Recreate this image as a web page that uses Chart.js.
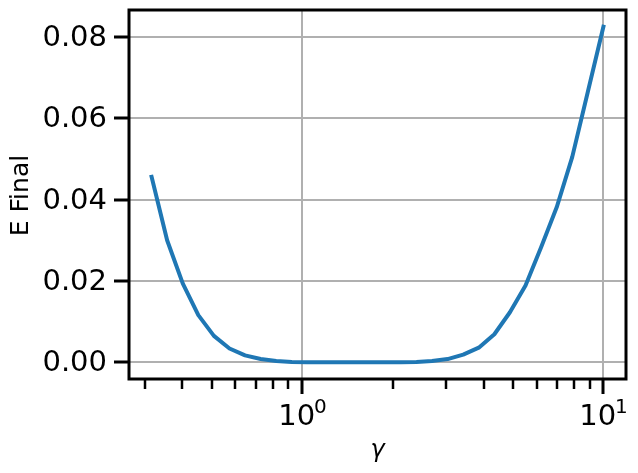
<!DOCTYPE html>
<html>
<head>
<meta charset="utf-8">
<script src="https://cdn.jsdelivr.net/npm/chart.js@4/dist/chart.umd.min.js"></script>
<style>
  html, body { margin: 0; padding: 0; background: #fff; }
</style>
</head>
<body>
<canvas id="chart" width="638" height="473"></canvas>
<script>
// gamma values (log spaced from 10^-0.5 to 10^1)
const gammaValues = [
  0.3162, 0.3561, 0.4012, 0.4520, 0.5092, 0.5736, 0.6461, 0.7279, 0.8200, 0.9237,
  1.0405, 1.1721, 1.3204, 1.4874, 1.6756, 1.8875, 2.1263, 2.3952, 2.6982, 3.0395,
  3.4240, 3.8571, 4.3450, 4.8946, 5.5137, 6.2112, 6.9969, 7.8819, 8.8789, 10.0
];
// final energy
const finalEnergy = [
  0.0456, 0.0300, 0.0194, 0.0116, 0.0065, 0.0034, 0.0017, 0.0008, 0.0003, 0.0001,
  0.00004, 0.00001, 0.0, 0.0, 0.0, 0.00001, 0.00003, 0.0001, 0.0003, 0.0008,
  0.0019, 0.0036, 0.0069, 0.0123, 0.0189, 0.0283, 0.0381, 0.0505, 0.0665, 0.0825
];

const yTickValues = [0, 0.02, 0.04, 0.06, 0.08];
const yTickLabels = ["0.00", "0.02", "0.04", "0.06", "0.08"];
const xMajorTicks = [1, 10];
const xMajorExponents = ["0", "1"];
const xMinorTicks = [0.3, 0.4, 0.5, 0.6, 0.7, 0.8, 0.9, 2, 3, 4, 5, 6, 7, 8, 9];

const FONT = "'DejaVu Sans', sans-serif";

// draws the spines, ticks, tick labels and axis titles like matplotlib does
const axesPlugin = {
  id: "axesPlugin",
  afterDraw(chart) {
    const ctx = chart.ctx;
    const area = chart.chartArea;
    const xs = chart.scales.x;
    const ys = chart.scales.y;

    function line(x1, y1, x2, y2, w) {
      ctx.lineWidth = w;
      ctx.beginPath();
      ctx.moveTo(x1, y1);
      ctx.lineTo(x2, y2);
      ctx.stroke();
    }

    ctx.save();
    ctx.strokeStyle = "#000";
    ctx.fillStyle = "#000";
    ctx.lineCap = "butt";

    // spines
    ctx.lineWidth = 3;
    ctx.strokeRect(area.left, area.top, area.right - area.left, area.bottom - area.top);

    // y ticks + labels
    ctx.font = "29px " + FONT;
    ctx.textAlign = "right";
    ctx.textBaseline = "middle";
    yTickValues.forEach((v, i) => {
      const py = Math.round(ys.getPixelForValue(v));
      line(area.left - 15, py, area.left, py, 3);
      ctx.fillText(yTickLabels[i], area.left - 22, py + 1);
    });

    // x minor ticks
    xMinorTicks.forEach((v) => {
      const px = Math.round(xs.getPixelForValue(v));
      line(px, area.bottom, px, area.bottom + 10, 2.5);
    });

    // x major ticks + labels 10^n
    xMajorTicks.forEach((v, i) => {
      const px = Math.round(xs.getPixelForValue(v));
      line(px, area.bottom, px, area.bottom + 15, 3);
      ctx.textBaseline = "alphabetic";
      ctx.textAlign = "left";
      ctx.font = "29px " + FONT;
      const baseW = ctx.measureText("10").width;
      ctx.font = "20px " + FONT;
      const expW = ctx.measureText(xMajorExponents[i]).width;
      const start = px - (baseW + expW) / 2 + 1;
      ctx.font = "29px " + FONT;
      ctx.fillText("10", start, area.bottom + 46);
      ctx.font = "20px " + FONT;
      ctx.fillText(xMajorExponents[i], start + baseW - 1, area.bottom + 34);
    });

    // x axis title
    ctx.font = "italic 24px " + FONT;
    ctx.textAlign = "center";
    ctx.textBaseline = "alphabetic";
    ctx.fillText("\u03b3", (area.left + area.right) / 2, area.bottom + 78);

    // y axis title
    ctx.translate(28, (area.top + area.bottom) / 2 + 1);
    ctx.rotate(-Math.PI / 2);
    ctx.font = "25px " + FONT;
    ctx.fillText("E Final", 0, 0);
    ctx.restore();
  }
};

const ctx = document.getElementById("chart").getContext("2d");
const chart = new Chart(ctx, {
  type: "line",
  data: {
    datasets: [
      {
        label: "E Final",
        data: gammaValues.map((g, i) => ({ x: g, y: finalEnergy[i] })),
        borderColor: "#1f77b4",
        borderWidth: 4,
        borderCapStyle: "square",
        borderJoinStyle: "round",
        pointRadius: 0,
        tension: 0,
        fill: false,
      },
    ],
  },
  options: {
    responsive: false,
    animation: false,
    layout: { padding: { left: 129, right: 12, top: 10, bottom: 94 } },
    plugins: {
      legend: { display: false },
      tooltip: { enabled: false },
    },
    scales: {
      x: {
        type: "logarithmic",
        min: Math.pow(10, -0.575),
        max: Math.pow(10, 1.075),
        afterBuildTicks: (axis) => {
          axis.ticks = xMajorTicks.map((v) => ({ value: v }));
        },
        ticks: { display: false },
        border: { display: false },
        grid: { color: "#b0b0b0", lineWidth: 2, drawTicks: false },
      },
      y: {
        type: "linear",
        min: -0.0041,
        max: 0.0866,
        afterBuildTicks: (axis) => {
          axis.ticks = yTickValues.map((v) => ({ value: v }));
        },
        ticks: { display: false },
        border: { display: false },
        grid: { color: "#b0b0b0", lineWidth: 2, drawTicks: false },
      },
    },
  },
  plugins: [axesPlugin],
});
</script>
</body>
</html>
